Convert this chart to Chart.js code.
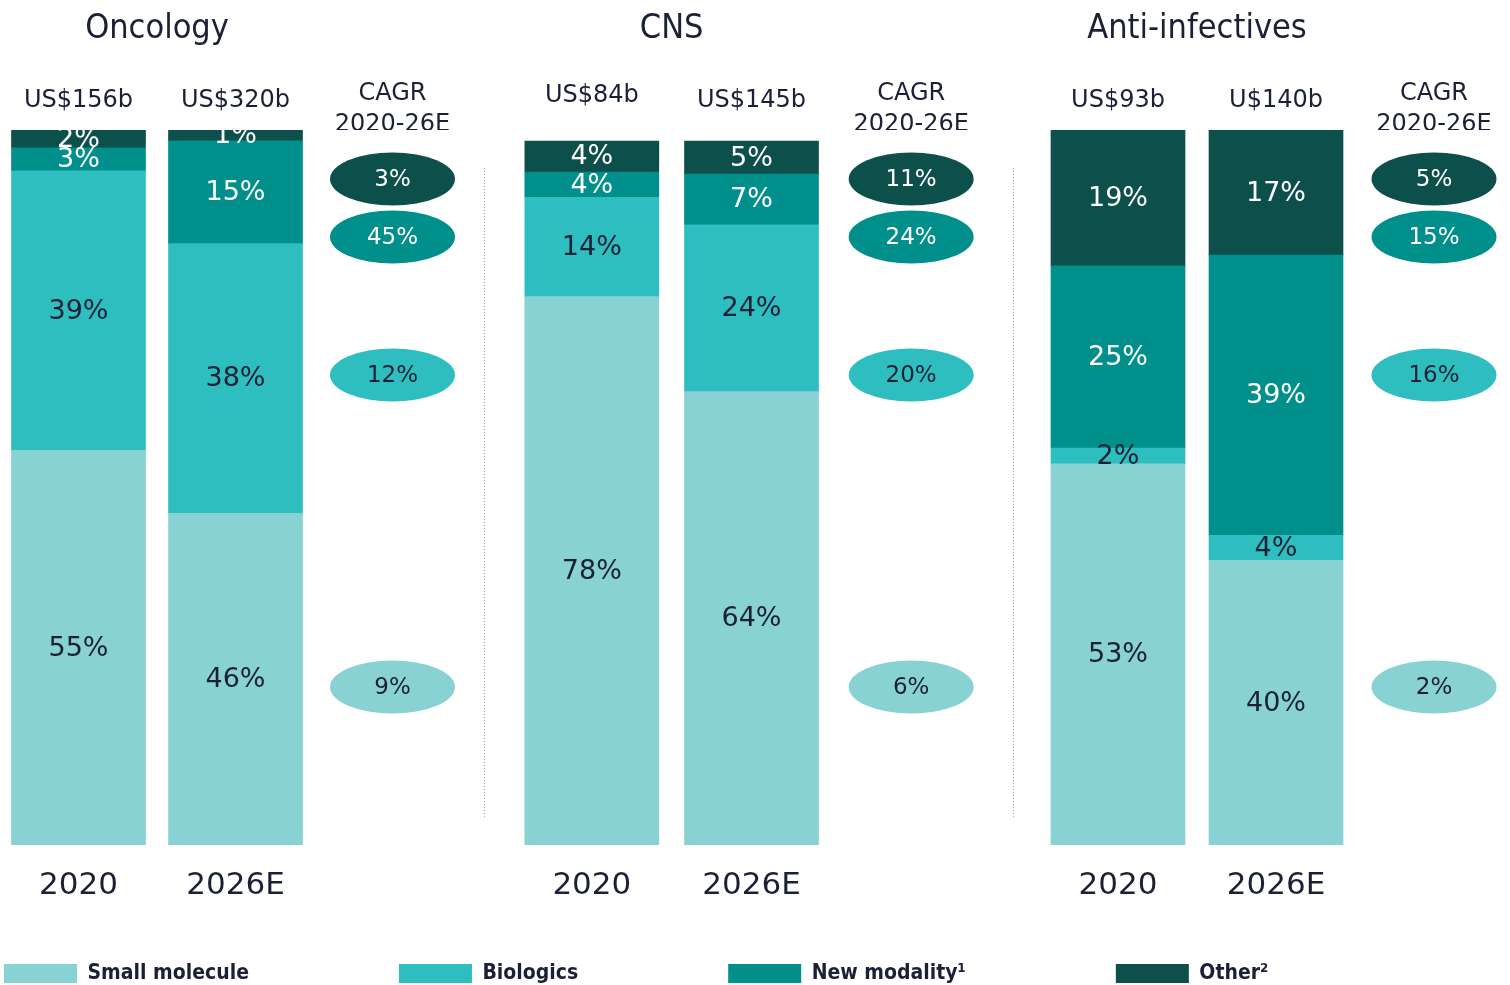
<!DOCTYPE html>
<html><head><meta charset="utf-8">
<script src="https://cdn.jsdelivr.net/npm/chart.js@4.4.1/dist/chart.umd.min.js"></script>
<style>
html,body{margin:0;padding:0;background:#fff;overflow:hidden;width:1510px;height:985px;position:relative;}
canvas{position:absolute;display:block;}
</style></head><body>
<canvas id="c0" width="484" height="900" style="left:0;top:0"></canvas>
<canvas id="c1" width="529" height="900" style="left:484px;top:0"></canvas>
<canvas id="c2" width="500" height="900" style="left:1013px;top:0"></canvas>
<canvas id="cl" width="1700" height="700" style="left:-146px;top:813px"></canvas>
<script>
// ---------- data ----------
const SERIES = ['Small molecule', 'Biologics', 'New modality\u00b9', 'Other\u00b2'];
const YEARS = ['2020', '2026E'];
const CAGR_HEADER = ['CAGR', '2020-26E'];
const PANEL_TITLES = ['Oncology', 'CNS', 'Anti-infectives'];

const ONC_TOTALS = ['US$156b', 'US$320b'];
const CNS_TOTALS = ['US$84b', 'US$145b'];
const AI_TOTALS  = ['US$93b', 'U$140b'];

// segment shares, series order: small, biologics, new modality, other
const ONC_2020 = [55.2, 39.1, 3.2, 2.5];
const ONC_2026 = [46.4, 37.7, 14.4, 1.5];
const CNS_2020 = [77.9, 14.1, 3.6, 4.4];
const CNS_2026 = [64.4, 23.7, 7.2, 4.7];
const AI_2020  = [53.3, 2.2, 25.5, 19.0];
const AI_2026  = [39.8, 3.5, 39.2, 17.5];

// printed percentage labels
const ONC_LBL_2020 = [55, 39, 3, 2];
const ONC_LBL_2026 = [46, 38, 15, 1];
const CNS_LBL_2020 = [78, 14, 4, 4];
const CNS_LBL_2026 = [64, 24, 7, 5];
const AI_LBL_2020  = [53, 2, 25, 19];
const AI_LBL_2026  = [40, 4, 39, 17];

// CAGR 2020-26E per series
const ONC_CAGR = [9, 12, 45, 3];
const CNS_CAGR = [6, 20, 24, 11];
const AI_CAGR  = [2, 16, 15, 5];

// ---------- styles ----------
const COLORS = ['#88d2d4', '#2fbec0', '#008f8a', '#0d4f4a'];
const TEXT_ON = ['#1a2035', '#1a2035', '#ffffff', '#ffffff'];
const DARK = '#1a2035';
const FONT = "'DejaVu Sans'";
const TITLE_FONT = "'DejaVu Sans Condensed', 'DejaVu Sans'";
const CAGR_ROW_Y = [687, 375, 237, 179];

const panels = [
  {id:'c0', title:PANEL_TITLES[0], totals:ONC_TOTALS, a:ONC_2020, b:ONC_2026, la:ONC_LBL_2020, lb:ONC_LBL_2026, cagr:ONC_CAGR, yMax:100, pad:{left:0,right:13}, sep:null, lift:[0,0]},
  {id:'c1', title:PANEL_TITLES[1], totals:CNS_TOTALS, a:CNS_2020, b:CNS_2026, la:CNS_LBL_2020, lb:CNS_LBL_2026, cagr:CNS_CAGR, yMax:101.56, pad:{left:28,right:22}, sep:0.5, lift:[5,0]},
  {id:'c2', title:PANEL_TITLES[2], totals:AI_TOTALS, a:AI_2020, b:AI_2026, la:AI_LBL_2020, lb:AI_LBL_2026, cagr:AI_CAGR, yMax:100, pad:{left:26,right:0}, sep:0.5, lift:[0,0]}
];

const segLabels = {
  id:'segLabels',
  afterDatasetsDraw(chart, args, opts){
    const ctx = chart.ctx;
    ctx.save();
    ctx.font = '27px ' + FONT;
    ctx.textAlign = 'center';
    ctx.textBaseline = 'middle';
    chart.data.datasets.forEach((ds, i) => {
      const meta = chart.getDatasetMeta(i);
      meta.data.forEach((el, j) => {
        const lbl = opts.labels[j] ? opts.labels[j][i] : null;
        if (lbl == null) return;
        ctx.fillStyle = TEXT_ON[i];
        ctx.fillText(lbl + '%', el.x, (el.y + el.base) / 2 + 1);
      });
    });
    ctx.restore();
  }
};

const cagrBubbles = {
  id:'cagrBubbles',
  afterDatasetsDraw(chart, args, opts){
    const ctx = chart.ctx;
    const x = chart.scales.x.getPixelForValue(2);
    ctx.save();
    opts.values.forEach((v, i) => {
      const y = CAGR_ROW_Y[i];
      ctx.beginPath();
      ctx.ellipse(x, y, 62.5, 26.5, 0, 0, Math.PI * 2);
      ctx.fillStyle = COLORS[i];
      ctx.fill();
      ctx.font = '23px ' + FONT;
      ctx.textAlign = 'center';
      ctx.textBaseline = 'middle';
      ctx.fillStyle = TEXT_ON[i];
      ctx.fillText(v + '%', x, y + 1);
    });
    ctx.restore();
  }
};

const panelDecor = {
  id:'panelDecor',
  afterDraw(chart, args, opts){
    const ctx = chart.ctx;
    const xs = chart.scales.x;
    ctx.save();
    ctx.font = '34px ' + TITLE_FONT;
    ctx.fillStyle = DARK;
    ctx.textAlign = 'center';
    ctx.textBaseline = 'middle';
    ctx.fillText(opts.title, (xs.getPixelForValue(0) + xs.getPixelForValue(1)) / 2, 29);
    if (opts.sep != null) {
      ctx.strokeStyle = '#a8a8a8';
      ctx.lineWidth = 1;
      ctx.setLineDash([1, 2]);
      ctx.beginPath();
      ctx.moveTo(opts.sep, 168);
      ctx.lineTo(opts.sep, 818);
      ctx.stroke();
    }
    ctx.restore();
  }
};

panels.forEach(p => {
  const datasets = SERIES.map((name, i) => ({
    label: name,
    data: [p.a[i], p.b[i], null],
    backgroundColor: COLORS[i],
    borderWidth: 0,
    barThickness: 134
  }));
  new Chart(document.getElementById(p.id), {
    type:'bar',
    data:{ labels:[...YEARS, ''], datasets },
    options:{
      responsive:false,
      animation:false,
      layout:{ padding:{ top:49, bottom:0, left:p.pad.left, right:p.pad.right } },
      plugins:{
        legend:{display:false},
        tooltip:{enabled:false},
        segLabels:{ labels:[p.la, p.lb] },
        cagrBubbles:{ values:p.cagr },
        panelDecor:{ title:p.title, sep:p.sep }
      },
      scales:{
        x:{
          stacked:true,
          grid:{display:false, drawTicks:false},
          border:{display:false},
          ticks:{ color:DARK, font:{family:FONT, size:31, lineHeight:1.2}, padding:22, maxRotation:0, autoSkip:false },
          afterFit(s){ s.height = 55; }
        },
        x2:{
          type:'category',
          position:'top',
          labels:[...p.totals, CAGR_HEADER],
          offset:true,
          grid:{display:false, drawTicks:false},
          border:{display:false},
          ticks:{
            color:DARK,
            padding:-10.5,
            maxRotation:0,
            autoSkip:false,
            font:(c) => ({family:FONT, size:24, lineHeight: c.index === 2 ? '31px' : (79 + 2 * (p.lift[c.index] || 0)) + 'px'})
          },
          afterFit(s){ s.height = 81; }
        },
        y:{ stacked:true, display:false, min:0, max:p.yMax }
      }
    },
    plugins:[segLabels, cagrBubbles, panelDecor]
  });
});

// legend
new Chart(document.getElementById('cl'), {
  type:'bar',
  data:{ labels:[], datasets: SERIES.map((name, i) => ({ label:name, data:[], backgroundColor:COLORS[i], borderWidth:0 })) },
  options:{
    responsive:false,
    animation:false,
    layout:{padding:0},
    plugins:{
      tooltip:{enabled:false},
      legend:{
        display:true,
        position:'top',
        align:'start',
        onClick:null,
        labels:{ boxWidth:73, boxHeight:19, padding:150, color:DARK, font:{family:"'DejaVu Sans Condensed', 'DejaVu Sans'", size:21, weight:'bold'} }
      }
    },
    scales:{ x:{display:false}, y:{display:false} }
  }
});
</script>
</body></html>
